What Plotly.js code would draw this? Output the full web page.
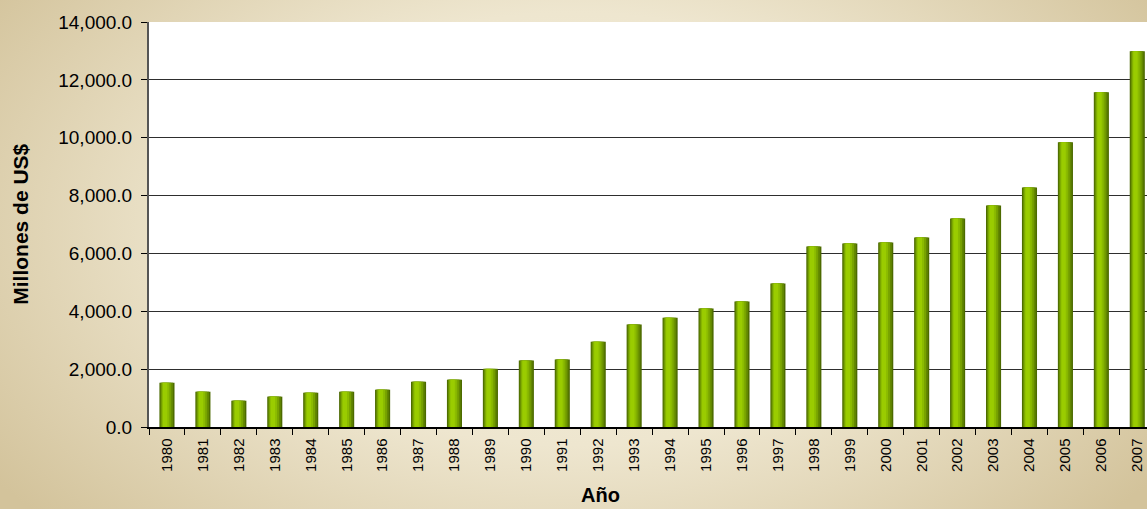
<!DOCTYPE html>
<html>
<head>
<meta charset="utf-8">
<script src="https://cdn.plot.ly/plotly-3.0.1.min.js"></script>
<style>
  html, body { margin: 0; padding: 0; }
  body {
    width: 1147px; height: 509px; overflow: hidden;
    background: radial-gradient(ellipse 62% 85% at 50% 45%, #f3eedc 0%, #eee6cf 50%, #d3c39b 100%);
  }
  #chart { width: 1147px; height: 509px; }
</style>
</head>
<body>
<div id="chart"></div>
<script>
const years = ["1980","1981","1982","1983","1984","1985","1986","1987","1988","1989",
  "1990","1991","1992","1993","1994","1995","1996","1997","1998","1999",
  "2000","2001","2002","2003","2004","2005","2006","2007"];
const values = [1530, 1220, 910, 1050, 1185, 1220, 1290, 1565, 1635, 2010,
  2295, 2330, 2950, 3540, 3780, 4095, 4335, 4960, 6240, 6345,
  6380, 6550, 7210, 7660, 8280, 9840, 11570, 12985];
const yTicks = [0, 2000, 4000, 6000, 8000, 10000, 12000, 14000];

// layered bars to imitate the cylindrical shading
const layers = [
  {offset: -0.21, width: 0.42, color: '#4c6a00'},
  {offset: -0.185, width: 0.355, color: '#628700'},
  {offset: -0.16, width: 0.28, color: '#78a300'},
  {offset: -0.135, width: 0.20, color: '#8bbb00'},
  {offset: -0.11, width: 0.12, color: '#9acc00'}
];
const traces = layers.map(l => ({
  type: 'bar', x: years, y: values,
  offset: l.offset, width: l.width,
  marker: {color: l.color, line: {width: 0}},
  hoverinfo: 'x+y', showlegend: false
}));

const layout = {
  width: 1147, height: 509,
  margin: {l: 149, r: 0, t: 22, b: 82},
  paper_bgcolor: 'rgba(0,0,0,0)',
  plot_bgcolor: '#ffffff',
  barmode: 'overlay',
  font: {family: '"Liberation Sans", Arial, sans-serif', color: '#000'},
  xaxis: {
    type: 'category',
    range: [-0.5, 27.27],
    tickangle: -90,
    tickfont: {size: 15},
    ticklabelstandoff: 4,
    ticks: 'outside', tickson: 'boundaries', ticklen: 6, tickcolor: '#000', tickwidth: 1,
    showline: true, linecolor: '#000', linewidth: 1.5,
    showgrid: false, fixedrange: true
  },
  yaxis: {
    range: [0, 14000],
    tickvals: yTicks,
    tickformat: ',.1f',
    tickfont: {size: 19},
    ticklabelstandoff: 5,
    ticks: 'outside', ticklen: 6, tickcolor: '#000', tickwidth: 1,
    showline: true, linecolor: '#555', linewidth: 2,
    showgrid: true, gridcolor: '#2e2e2e', gridwidth: 1,
    zeroline: false, fixedrange: true
  },
  annotations: [
    {text: '<b>Año</b>', xref: 'paper', yref: 'paper', x: 0.452, y: 0,
     yshift: -68, xanchor: 'center', yanchor: 'middle', showarrow: false,
     font: {size: 20}},
    {text: '<b>Millones de US$</b>', xref: 'paper', yref: 'paper', x: -0.129, y: 0.5,
     xanchor: 'center', yanchor: 'middle', textangle: -90, showarrow: false,
     font: {size: 21}}
  ]
};

Plotly.newPlot('chart', traces, layout, {displayModeBar: false, staticPlot: true});
</script>
</body>
</html>
